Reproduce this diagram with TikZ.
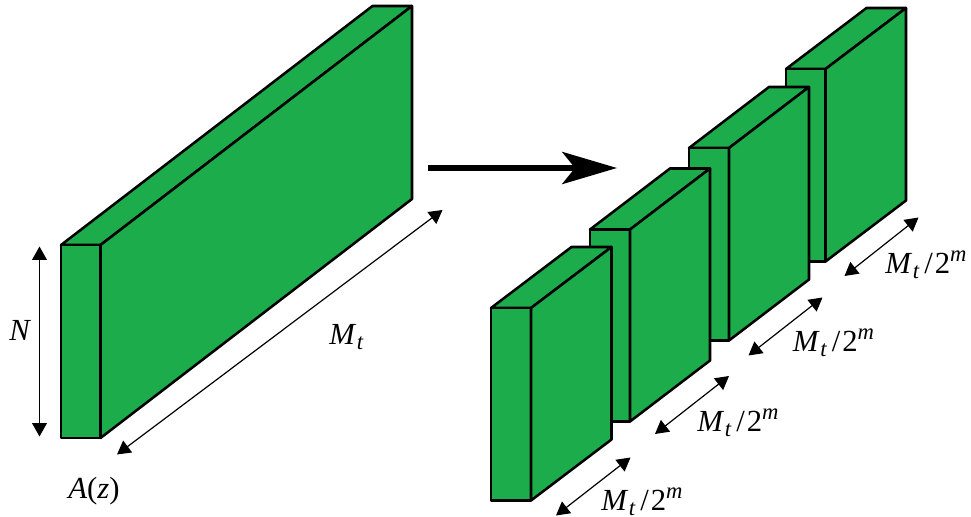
\documentclass[tikz,border=0pt]{standalone}
\usepackage{fontspec}
\setmainfont{Liberation Serif}
\usetikzlibrary{arrows.meta}
\definecolor{boxgreen}{RGB}{28,172,75}
\newcommand{\sizedM}{\textit{M}\kern0.5pt\raisebox{-4pt}{\fontsize{17}{18}\selectfont\textit{t}}}
\newcommand{\lblMtm}{\sizedM\kern3.5pt/\kern1.5pt2\raisebox{9pt}{\fontsize{17}{18}\selectfont\textit{m}}}
\tikzset{
  x=0.75pt,y=-0.75pt,
  face/.style={fill=boxgreen,draw=black,line width=1.9pt,line join=round},
  dim/.style={line width=0.9pt,{Triangle[length=10pt,width=11pt]}-{Triangle[length=10pt,width=11pt]},shorten >=0pt,shorten <=0pt},
  lbl/.style={font=\fontsize{23}{25}\selectfont,inner sep=0pt,text=black,anchor=base west},
  bigarrow/.style={line width=4.5pt,-{Stealth[length=41pt,width=24pt,inset=9.5pt]}}
}
\newcommand{\cuboid}[6]{% x0 x1 ytop ybot dx dy
  \filldraw[face] (#1,#3) -- (#1+#5,#3-#6) -- (#2+#5,#3-#6) -- (#2,#3) -- cycle;
  \filldraw[face] (#1,#3) rectangle (#2,#4);
  \filldraw[face] (#2,#3) -- (#2+#5,#3-#6) -- (#2+#5,#4-#6) -- (#2,#4) -- cycle;
}
\begin{document}
\begin{tikzpicture}
\useasboundingbox (0,0) rectangle (971,517);
\cuboid{61}{100.5}{245}{438}{311.5}{239}
\cuboid{786}{825.5}{69}{261.5}{80.5}{61}
\cuboid{689}{729}{148}{340.5}{80}{61}
\cuboid{590}{630}{229.5}{421.5}{80}{61}
\cuboid{491}{531}{308}{500.5}{80.5}{61}

\coordinate (nA) at (39.5,246.5);
\coordinate (nB) at (39.5,436.5);
\coordinate (mA) at (117,454.5);
\coordinate (mB) at (442.5,210);
\coordinate (a1) at (556,515.5);
\coordinate (b1) at (630.5,457.5);
\coordinate (a2) at (655,434);
\coordinate (b2) at (729,376);
\coordinate (a3) at (748.5,355.5);
\coordinate (b3) at (822.5,297.5);
\coordinate (a4) at (844.5,276);
\coordinate (b4) at (918.5,217.5);
\coordinate (arrA) at (428,168);
\coordinate (arrB) at (617,168);

\draw[dim] (nA) -- (nB);
\draw[dim] (mA) -- (mB);
\draw[dim] (a1) -- (b1);
\draw[dim] (a2) -- (b2);
\draw[dim] (a3) -- (b3);
\draw[dim] (a4) -- (b4);
\draw[bigarrow] (arrA) -- (arrB);

\node[lbl] (labN) at (9,340) {\textit{N}};
\node[lbl] (labA) at (68,498) {\textit{A}(\textit{z})};
\node[lbl] (labM) at (329,344) {\sizedM};
\node[lbl] (lab1) at (601,510.5) {\lblMtm};
\node[lbl] (lab2) at (697,431.5) {\lblMtm};
\node[lbl] (lab3) at (792.5,351.5) {\lblMtm};
\node[lbl] (lab4) at (885,273.5) {\lblMtm};
\end{tikzpicture}
\end{document}
